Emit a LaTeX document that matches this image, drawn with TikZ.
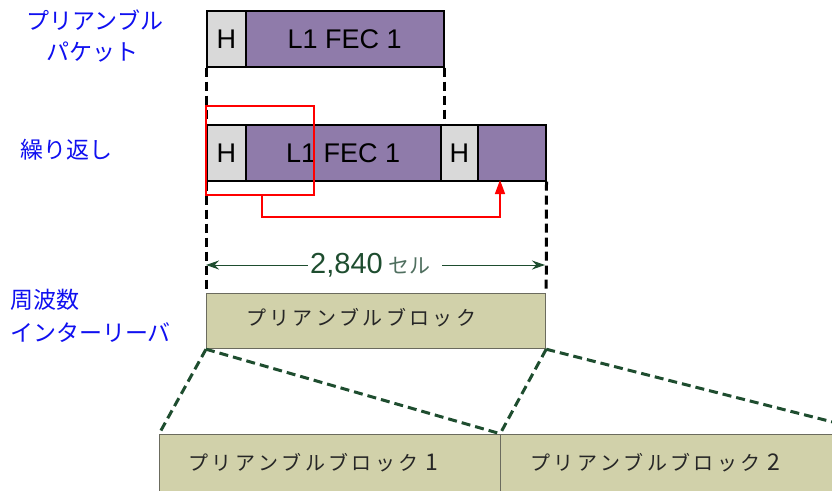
\documentclass[tikz,border=0pt]{standalone}
\usepackage{fontspec}
\setmainfont{Liberation Sans}
\newfontfamily\jp{Noto Sans CJK JP}
\usetikzlibrary{arrows.meta}
\definecolor{hgray}{HTML}{D9D9D9}
\definecolor{fecpurple}{HTML}{8F7BAA}
\definecolor{olive}{HTML}{D1D1AA}
\definecolor{olivebd}{HTML}{6B6B5E}
\definecolor{dkgreen}{HTML}{1E4D2F}
\definecolor{ltgreen}{HTML}{4F6F5F}
\definecolor{lblue}{HTML}{1010F0}
\tikzset{
  cell/.style={draw=black, line width=1.5pt, inner sep=0pt, anchor=north west, font=\fontsize{27}{30}\selectfont},
  hcell/.style={cell, fill=hgray},
  fcell/.style={cell, fill=fecpurple},
  oblock/.style={draw=olivebd, line width=1.2pt, fill=olive, inner sep=0pt, anchor=north west},
  blkdash/.style={draw=black, line width=3pt, dash pattern=on 9pt off 5pt},
  grndash/.style={draw=dkgreen, line width=3pt, dash pattern=on 9pt off 5pt},
  lbl/.style={text=lblue, font=\jp\fontsize{23}{26}\selectfont, inner sep=0pt},
  jptxt/.style={font=\jp\fontsize{20}{24}\selectfont, text=black!85},
}
\begin{document}
\begin{tikzpicture}[x=1pt,y=-1pt]
\clip (0,0) rectangle (832,490);
\fill[white] (0,0) rectangle (832,490);
% labels
\node[lbl] (l1) at (95,20) {プリアンブル};
\node[lbl] (l2) at (92,52) {パケット};
\node[lbl] (l3) at (66,150) {繰り返し};
\node[lbl, anchor=west] (l4) at (10,300) {周波数};
\node[lbl, anchor=west] (l5) at (10,333) {インターリーバ};
% top row
\node[hcell, minimum width=39pt, minimum height=56pt] (h1) at (206,10) {H};
\node[fcell, minimum width=198pt, minimum height=56pt] (f1) at (245,10) {L1 FEC 1};
% second row
\node[hcell, minimum width=39pt, minimum height=56pt] (h2) at (206,124) {H};
\node[fcell, minimum width=195pt, minimum height=56pt] (f2) at (245,124) {L1 FEC 1};
\node[hcell, minimum width=37pt, minimum height=56pt] (h3) at (440,124) {H};
\node[fcell, minimum width=68pt, minimum height=56pt] (f3) at (477,124) {};
% dashed connectors
\draw[blkdash] (h1.south west) -- (h2.north west);
\draw[blkdash] (f1.south east) -- (f1.south east |- f2.north);
% olive block
\node[oblock, minimum width=339pt, minimum height=55pt] (ob) at (206,293) {};
\node[jptxt] (obt) at (361,318) {プ\,リ\,ア\,ン\,ブ\,ル\,ブ\,ロ\,ッ\,ク};
\draw[blkdash] (h2.south west) -- (ob.north west);
\draw[blkdash] (f3.south east) -- (ob.north east);
% red box and arrow
\coordinate (ra) at (206,106);
\coordinate (rb) at (314,195);
\draw[red, line width=1.5pt] (ra) rectangle (rb);
\coordinate (rs) at (262,195);
\coordinate (rt) at (500,180);
\draw[red, line width=1.5pt, -{Triangle[length=14pt,width=10pt]}] (rs) -- (262,217) -- (500,217) -- (rt);
% dimension
\coordinate (dl) at (206,265);
\coordinate (dr) at (545,265);
\draw[dkgreen, line width=1pt, {Stealth[length=13pt,width=9pt]}-{Stealth[length=13pt,width=9pt]}] (dl) -- (dr);
\node[fill=white, inner sep=2pt] (dim) at (375,265) {\textcolor{dkgreen}{\fontsize{29}{31}\selectfont 2,840}\kern6pt\textcolor{ltgreen}{\jp\fontsize{21}{24}\selectfont セル}\kern9pt};
% bottom blocks
\node[oblock, minimum width=341pt, minimum height=70pt] (b1) at (159,434) {};
\node[oblock, minimum width=350pt, minimum height=70pt] (b2) at (500,434) {};
\node[jptxt, anchor=west] (b1t) at (185,463) {プ\,リ\,ア\,ン\,ブ\,ル\,ブ\,ロ\,ッ\,ク\,\,{\fontsize{23}{24}\selectfont 1}};
\node[jptxt, anchor=west] (b2t) at (527,463) {プ\,リ\,ア\,ン\,ブ\,ル\,ブ\,ロ\,ッ\,ク\,\,{\fontsize{23}{24}\selectfont 2}};
% green dashed
\draw[grndash] (ob.south west) -- (b1.north west);
\draw[grndash] (ob.south west) -- (b1.north east);
\draw[grndash] (ob.south east) -- (b2.north west);
\draw[grndash] (ob.south east) -- (880,434);
\end{tikzpicture}
\end{document}
